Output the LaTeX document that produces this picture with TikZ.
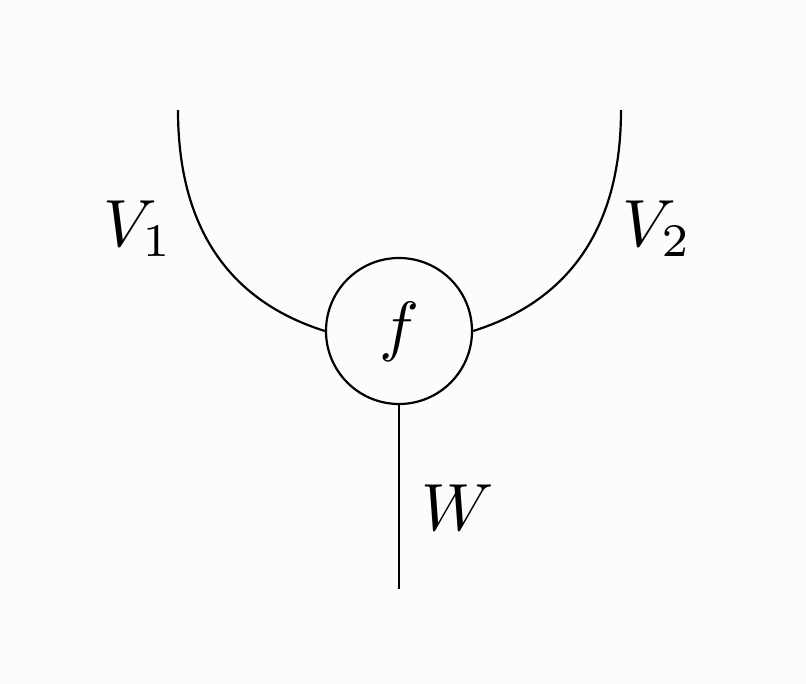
\documentclass[tikz,border=0pt]{standalone}
\usepackage{graphicx}
\begin{document}
\begin{tikzpicture}[x=0.02cm,y=-0.02cm,
  wire/.style={line width=1.25pt},
  lbl/.style={inner sep=0pt}]
\fill[fill={rgb,255:red,252;green,252;blue,252}] (0,0) rectangle (806,684);
\useasboundingbox (0,0) rectangle (806,684);
\node[draw, circle, wire, minimum size=146*0.02cm, inner sep=0pt] (f) at (399,331) {};
\node[lbl] (flab) at (399,332) {\scalebox{3.8}{$f$}};
\coordinate (tl) at (178,110);
\coordinate (tr) at (621,110);
\coordinate (bot) at (399,589);
\draw[wire] (tl) .. controls (178,245) and (245,306) .. (f.west);
\draw[wire] (tr) .. controls (621,245) and (553,306) .. (f.east);
\draw[wire] (f.south) -- (bot);
\node[lbl] (v1) at (138,229) {\scalebox{3.8}{$V_1$}};
\node[lbl] (v2) at (657,229) {\scalebox{3.8}{$V_2$}};
\node[lbl] (w) at (458,508) {\scalebox{3.8}{$W$}};
\end{tikzpicture}
\end{document}
